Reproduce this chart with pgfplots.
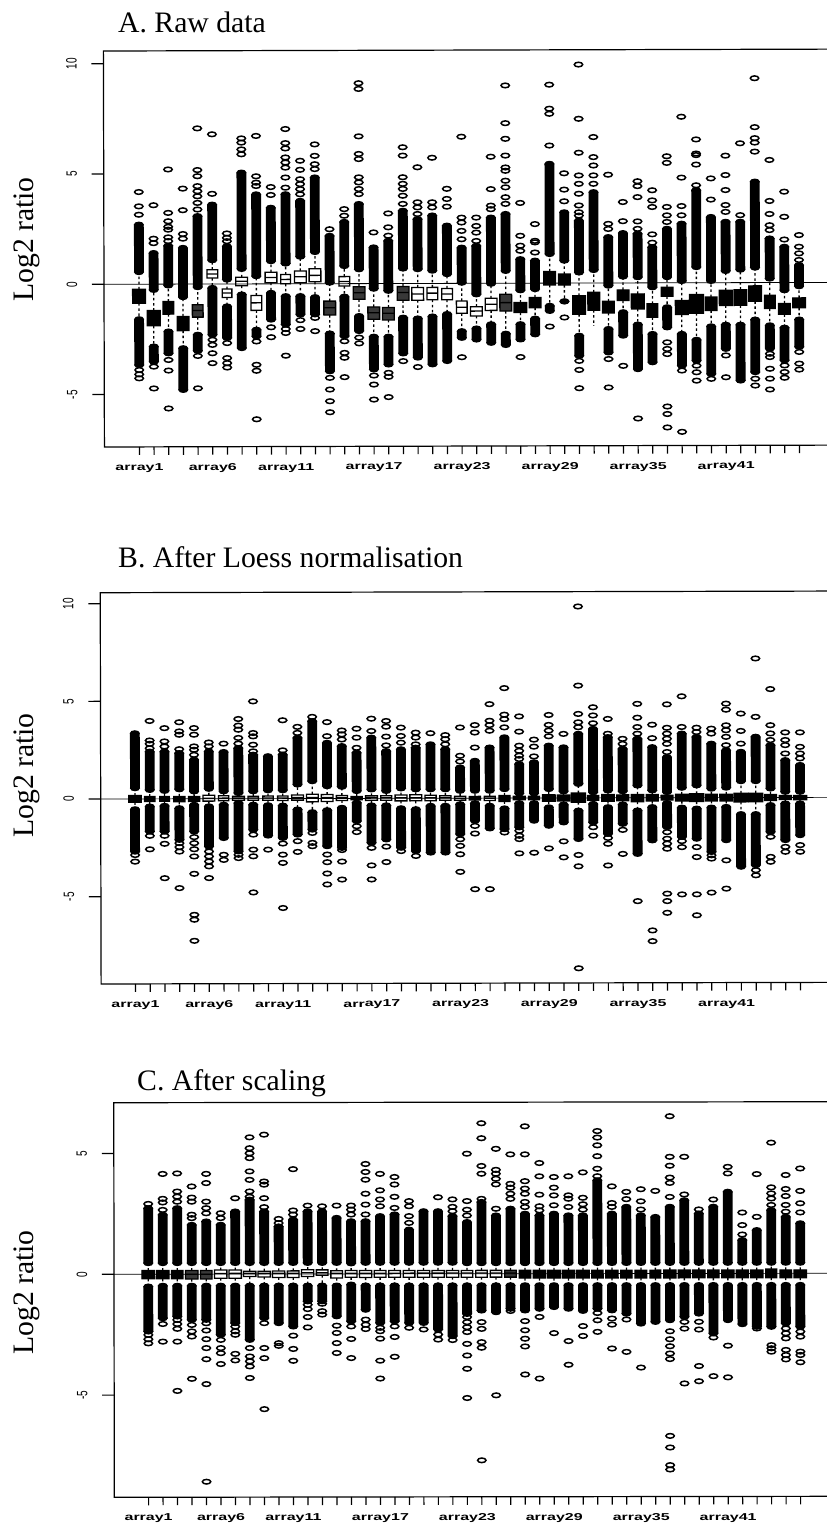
\documentclass[border=0pt]{standalone}
\usepackage{fontspec}
\setmainfont{Liberation Sans}
\newfontfamily\ser{Liberation Serif}
\usepackage{pgfplots}
\usepgfplotslibrary{statistics}
\pgfplotsset{compat=1.18}
\pgfdeclareplotmark{oval}{\pgfpathellipse{\pgfpointorigin}{\pgfqpoint{4.2pt}{0pt}}{\pgfqpoint{0pt}{2.3pt}}\pgfusepathqstroke}
\pgfdeclareplotmark{ovalf}{\pgfpathellipse{\pgfpointorigin}{\pgfqpoint{4.2pt}{0pt}}{\pgfqpoint{0pt}{2.3pt}}\pgfusepathqfillstroke}
\newcommand\AL[1]{\scalebox{1.6}[1]{\fontsize{10}{10}\selectfont\bfseries array#1}}
\newcommand\YL[1]{\scalebox{0.67}[1]{\fontsize{15}{15}\selectfont #1}}
\newcommand\BX[8]{\addplot[black,solid,line width=1.3pt,boxplot prepared={draw direction=y,draw position=#1,lower whisker=#2,lower quartile=#3,median=#4,upper quartile=#5,upper whisker=#6,box extend=#7,whisker extend=0,every box/.style={draw=black,fill=#8},every median/.style={black},every whisker/.style={dash pattern=on 2.5pt off 2.6pt}}] coordinates {};}
\newcommand\BD[3]{\addplot[black,line width=9.8pt,mark=ovalf,mark options={solid,line width=1.5pt,fill=black}] coordinates {(#1,#2)(#1,#3)};}
% x, lower band bottom, lower band top, q1, median, q3, upper band bottom, upper band top, box extend
\newcommand\AS[9]{\BD{#1}{#2}{#3}\BD{#1}{#7}{#8}\BX{#1}{#3}{#4}{#5}{#6}{#7}{#9}{black}}
\newcommand\AD[9]{\BD{#1}{#2}{#3}\BD{#1}{#7}{#8}\BX{#1}{#3}{#4}{#5}{#6}{#7}{#9}{black!78}}
\newcommand\AH[9]{\BD{#1}{#2}{#3}\BD{#1}{#7}{#8}\BX{#1}{#3}{#4}{#5}{#6}{#7}{#9}{white}}
\pgfplotsset{panel/.style={scale only axis,anchor=south west,axis line style={line width=1.2pt},
 xtick={1,6,11,17,23,29,35,41},minor xtick={1,...,46},
 xticklabels={\AL{1},\AL{6},\AL{11},\AL{17},\AL{23},\AL{29},\AL{35},\AL{41}},
 xtick pos=lower,ytick pos=left,tick align=outside,major tick length=12pt,minor tick length=8pt,
 x tick style={line width=1.2pt,black},major x tick style={draw=none},
 y tick style={line width=1.2pt,black},
 xticklabel style={anchor=north,inner sep=0pt},xticklabel shift=4.5pt,
 yticklabel style={rotate=90,anchor=south,inner sep=0pt},yticklabel shift=14.5pt,
}}
\begin{document}
\begin{tikzpicture}[x=1pt,y=1pt]
\useasboundingbox (0,0) rectangle (827,-1527);
\node[anchor=base west,inner sep=0pt] at (118,-32) {\ser\fontsize{29.7}{30}\selectfont A. Raw data};
\node[anchor=base west,inner sep=0pt] at (118,-567) {\ser\fontsize{29.7}{30}\selectfont B. After Loess normalisation};
\node[anchor=base west,inner sep=0pt] at (137,-1090) {\ser\fontsize{29.7}{30}\selectfont C. After scaling};
\node[anchor=base west,inner sep=0pt,rotate=90] at (33,-302) {\ser\fontsize{29.7}{30}\selectfont Log2 ratio};
\node[anchor=base west,inner sep=0pt,rotate=90] at (33,-838) {\ser\fontsize{29.7}{30}\selectfont Log2 ratio};
\node[anchor=base west,inner sep=0pt,rotate=90] at (33,-1355) {\ser\fontsize{29.7}{30}\selectfont Log2 ratio};

% ---------------- Panel A
\begin{scope}[rotate around={0.15:(104,-284)}]
\begin{axis}[panel,at={(104pt,-447pt)},width=736pt,height=396pt,
 xmin=-1.386,xmax=48.79,ymin=-7.38,ymax=10.58,
 ytick={-5,0,5,10},yticklabels={\YL{-5},\YL{0},\YL{5},\YL{10}}]
\AS{1}{-3.67}{-1.59}{-.86}{-.5}{-.23}{.55}{2.7}{.87}
\AS{2}{-3.52}{-2.83}{-1.89}{-1.5}{-1.2}{-.26}{1.41}{.87}
\AS{3}{-3.14}{-2.15}{-1.36}{-1.05}{-.79}{-.06}{1.74}{.73}
\AS{4}{-4.8}{-2.91}{-2.11}{-1.75}{-1.47}{-.59}{1.64}{.8}
\AD{5}{-3.03}{-2.3}{-1.5}{-1.2}{-.94}{-.14}{3.08}{.73}
\AH{6}{-2.3}{-.18}{.27}{.45}{.65}{1.08}{3.6}{.73}
\AH{7}{-2.45}{-1.02}{-.61}{-.41}{-.23}{.2}{1.71}{.66}
\AH{8}{-2.91}{-.48}{-.08}{.12}{.3}{.68}{5.05}{.8}
\AH{9}{-2.38}{-2.08}{-1.2}{-.86}{-.53}{.35}{4.06}{.73}
\AH{10}{-1.62}{-.41}{.05}{.29}{.53}{1.03}{3.45}{.8}
\AH{11}{-1.85}{-.56}{0}{.2}{.42}{.92}{4.06}{.66}
\AH{12}{-1.39}{-.56}{.05}{.32}{.58}{1.23}{3.76}{.8}
\AH{13}{-1.39}{-.61}{.09}{.38}{.68}{1.44}{4.82}{.8}
\AD{14}{-3.97}{-2.26}{-1.42}{-1.09}{-.79}{.05}{2.17}{.8}
\AH{15}{-2.38}{-.59}{-.11}{.1}{.32}{.8}{2.8}{.73}
\AD{16}{-2.15}{-1.47}{-.71}{-.41}{-.14}{.65}{3.61}{.8}
\AD{17}{-3.89}{-2.41}{-1.62}{-1.32}{-1.06}{-.23}{1.64}{.8}
\AD{18}{-3.67}{-2.41}{-1.65}{-1.35}{-1.09}{-.33}{1.94}{.8}
\AD{19}{-3.17}{-1.55}{-.76}{-.41}{-.14}{.68}{3.3}{.8}
\AH{20}{-3.36}{-1.59}{-.76}{-.48}{-.18}{.65}{2.92}{.8}
\AH{21}{-3.67}{-1.5}{-.74}{-.44}{-.18}{.58}{3.08}{.73}
\AH{22}{-3.52}{-1.39}{-.74}{-.48}{-.23}{.42}{2.62}{.73}
\AH{23}{-2.47}{-2.17}{-1.36}{-1.08}{-.8}{.03}{1.62}{.73}
\AH{24}{-2.55}{-2.05}{-1.48}{-1.26}{-1.06}{-.5}{1.7}{.8}
\AH{25}{-2.7}{-1.86}{-1.23}{-.95}{-.68}{-.02}{2.98}{.8}
\AD{26}{-2.8}{-2.29}{-1.26}{-.88}{-.5}{.56}{3.14}{.8}
\AS{27}{-2.55}{-1.86}{-1.33}{-1.1}{-.88}{-.32}{1.09}{.87}
\AS{28}{-2.32}{-1.61}{-1.11}{-.88}{-.65}{-.27}{1.02}{.8}
\AS{29}{-1.26}{-1.03}{-.08}{.2}{.53}{1.32}{5.41}{.8}
\AS{30}{-.83}{-.83}{-.09}{.15}{.41}{1.02}{3.21}{.8}
\AS{31}{-3.3}{-2.39}{-1.41}{-1}{-.58}{.48}{2.83}{.87}
\BD{32}{.59}{4.12}\BX{32}{-1.94}{-1.23}{-.8}{-.42}{.59}{.8}{black}
\AS{33}{-3.15}{-2.09}{-1.36}{-1.1}{-.83}{-.12}{2.08}{.8}
\AS{34}{-2.39}{-1.33}{-.8}{-.55}{-.32}{.29}{2.26}{.8}
\AS{35}{-3.91}{-1.89}{-1.18}{-.85}{-.5}{.26}{2.23}{.87}
\AS{36}{-3.6}{-2.32}{-1.56}{-1.26}{-.95}{-.2}{1.62}{.73}
\AS{37}{-2.02}{-1.11}{-.61}{-.4}{-.2}{.26}{2.45}{.8}
\AS{38}{-3.76}{-2.32}{-1.44}{-1.1}{-.8}{.08}{2.68}{.87}
\AS{39}{-3.53}{-2.59}{-1.38}{-.95}{-.53}{.71}{4.2}{.95}
\AS{40}{-4.14}{-1.98}{-1.26}{-.95}{-.65}{.08}{2.98}{.8}
\AS{41}{-3}{-1.91}{-1.03}{-.7}{-.35}{.53}{2.76}{.87}
\AS{42}{-4.44}{-1.91}{-1.03}{-.65}{-.32}{.59}{2.76}{.87}
\AS{43}{-4.06}{-1.68}{-.85}{-.5}{-.15}{.68}{4.58}{.87}
\AS{44}{-3}{-1.94}{-1.18}{-.88}{-.58}{.18}{2}{.73}
\AS{45}{-3.53}{-2.05}{-1.44}{-1.2}{-.95}{-.35}{1.62}{.8}
\AS{46}{-2.92}{-1.68}{-1.15}{-.92}{-.7}{-.17}{.79}{.87}
\addplot[only marks,mark=oval,mark options={solid,line width=1.5pt,black}] coordinates {
(1,3.15)(1,3.53)(1,4.18)(1,-3.89)(1,-4.09)(1,-4.27)
(2,1.86)(2,2.06)(2,3.58)(2,-3.74)(2,-4.73)
(3,1.95)(3,2.12)(3,2.47)(3,2.6)(3,2.85)(3,3.23)(3,5.2)(3,-3.44)(3,-3.92)(3,-5.64)
(4,2.06)(4,2.27)(4,3.35)(4,4.33)
(5,3.38)(5,3.68)(5,3.98)(5,4.21)(5,4.44)(5,4.89)(5,5.17)(5,7.06)(5,-3.26)(5,-4.73)
(6,4.09)(6,6.79)(6,-2.53)(6,-2.76)(6,-3.14)(6,-3.59)
(7,1.94)(7,2.09)(7,2.29)(7,-2.68)(7,-3.36)(7,-3.59)(7,-3.79)
(8,5.88)(8,6.1)(8,6.41)(8,6.6)
(9,4.44)(9,4.59)(9,4.88)(9,6.71)(9,-2.61)(9,-3.67)(9,-3.94)(9,-6.14)
(10,4.03)(10,4.39)(10,-1.97)(10,-2.42)
(11,4.36)(11,4.82)(11,5.27)(11,5.5)(11,5.73)(11,6.14)(11,6.38)(11,7.02)(11,-2.05)(11,-2.23)(11,-3.26)
(12,4.06)(12,4.29)(12,4.52)(12,4.74)(12,5.17)(12,5.58)(12,-1.65)(12,-2.05)
(13,5.2)(13,5.42)(13,5.8)(13,6.32)(13,-1.55)(13,-2.15)
(14,2.47)(14,-4.27)(14,-4.8)(14,-5.33)(14,-5.83)
(15,3.08)(15,3.38)(15,-2.61)(15,-3.14)(15,-3.36)(15,-4.24)
(16,4.06)(16,4.29)(16,4.59)(16,4.82)(16,5.65)(16,5.88)(16,6.68)(16,8.83)(16,9.09)(16,-2.45)(16,-2.71)
(17,2.32)(17,-4.17)(17,-4.58)(17,-5.26)
(18,2.17)(18,2.55)(18,3.18)(18,-4.05)(18,-4.23)(18,-5.15)
(19,3.61)(19,3.98)(19,4.29)(19,4.52)(19,4.82)(19,5.8)(19,6.18)(19,-3.52)
(20,3.15)(20,3.45)(20,3.68)(20,5.27)(20,-3.79)
(21,3.45)(21,3.68)(21,5.7)
(22,3.48)(22,3.83)(22,4.29)
(23,2)(23,2.38)(23,2.76)(23,2.98)(23,6.65)(23,-3.35)
(24,1.92)(24,2.3)(24,2.6)(24,2.98)
(25,3.36)(25,3.52)(25,4.27)(25,5.74)
(26,3.6)(26,3.9)(26,4.35)(26,4.65)(26,5.1)(26,5.25)(26,5.79)(26,6.55)(26,7.26)(26,8.97)
(27,1.47)(27,1.7)(27,2.15)(27,3.64)(27,-3.35)
(28,1.39)(28,1.85)(28,1.92)(28,2.68)
(29,6.24)(29,7.91)(29,7.68)(29,9)(29,-1.97)
(30,3.71)(30,4.24)(30,4.98)(30,-1.56)
(31,3.06)(31,3.21)(31,3.52)(31,4.05)(31,4.5)(31,4.88)(31,5.91)(31,7.45)(31,9.91)(31,-3.53)(31,-3.94)(31,-4.77)
(32,4.5)(32,4.88)(32,5.33)(32,5.71)(32,6.62)
(33,2.45)(33,2.68)(33,4.91)(33,-3.45)(33,-4.74)
(34,2.8)(34,3.67)(34,-3.76)
(35,2.45)(35,2.79)(35,3.89)(35,4.39)(35,4.61)(35,-6.15)
(36,1.82)(36,2.2)(36,3.44)(36,3.74)(36,4.2)
(37,2.76)(37,3.06)(37,3.44)(37,5.44)(37,5.74)(37,-2.7)(37,-3)(37,-3.23)(37,-5.61)(37,-5.95)(37,-6.56)
(38,3.06)(38,3.48)(38,4.77)(38,7.53)(38,-3.98)(38,-6.76)
(39,4.42)(39,5.36)(39,5.79)(39,5.86)(39,6.5)(39,-3.76)(39,-4.06)(39,-4.44)
(40,3.77)(40,4.73)(40,-4.36)
(41,3.21)(41,3.52)(41,4.2)(41,4.88)(41,5.76)(41,-3.3)(41,-4.29)
(42,3.06)(42,6.32)
(43,5.94)(43,6.35)(43,6.55)(43,7.05)(43,9.27)(43,-4.36)(43,-4.67)
(44,2.38)(44,2.6)(44,3.11)(44,3.7)(44,5.56)(44,-3.23)(44,-3.38)(44,-3.91)(44,-4.36)(44,-4.85)
(45,1.95)(45,2.98)(45,4.12)(45,-3.76)(45,-4.06)(45,-4.32)
(46,1.02)(46,1.32)(46,1.62)(46,2.15)(46,-3.15)(46,-3.68)(46,-3.95)
};
\addplot[black,line width=0.8pt] coordinates {(-1.386,0)(48.79,0)};
\end{axis}
\end{scope}

% ---------------- Panel B
\begin{scope}[rotate around={0.13:(100.7,-799)}]
\begin{axis}[panel,at={(100.7pt,-984pt)},width=739.3pt,height=391.3pt,
 xmin=-1.32,xmax=48.7,ymin=-9.47,ymax=10.56,
 ytick={-5,0,5,10},yticklabels={\YL{-5},\YL{0},\YL{5},\YL{10}}]
\AS{1}{-2.7}{-.53}{-.17}{0}{.17}{.55}{3.36}{.85}
\AS{2}{-1.67}{-.39}{-.13}{0}{.12}{.46}{2.42}{.7}
\AS{3}{-1.67}{-.36}{-.12}{0}{.12}{.41}{2.42}{.65}
\AS{4}{-2.1}{-.48}{-.15}{0}{.12}{.49}{2.34}{.75}
\AS{5}{-1.67}{-.31}{-.13}{0}{.12}{.38}{2}{.75}
\AH{6}{-2.44}{-.39}{-.12}{.03}{.18}{.51}{2.42}{.8}
\AH{7}{-2.01}{-.31}{-.1}{.03}{.15}{.38}{2.39}{.7}
\AH{8}{-2.7}{-.22}{-.08}{.03}{.12}{.29}{2.59}{.8}
\AH{9}{-1.59}{-.31}{-.08}{.03}{.12}{.38}{2.25}{.7}
\AH{10}{-1.89}{-.34}{-.08}{.03}{.13}{.43}{2.17}{.7}
\AH{11}{-2.01}{-.36}{-.1}{.03}{.13}{.43}{2.25}{.7}
\AH{12}{-1.84}{-.56}{-.08}{.05}{.18}{.72}{3.11}{.8}
\AH{13}{-1.59}{-.7}{-.17}{.05}{.22}{.89}{3.96}{.8}
\AH{14}{-2.44}{-.6}{-.15}{.05}{.2}{.63}{2.85}{.8}
\AH{15}{-2.53}{-.48}{-.1}{.05}{.15}{.6}{2.68}{.75}
\AS{16}{-1.16}{-.22}{-.07}{.03}{.1}{.38}{2.34}{.75}
\AH{17}{-2.27}{-.36}{-.1}{.03}{.13}{.46}{3.11}{.8}
\AH{18}{-2.1}{-.36}{-.1}{.03}{.13}{.38}{2.42}{.75}
\AH{19}{-2.53}{-.51}{-.13}{.03}{.17}{.51}{2.51}{.8}
\AH{20}{-2.7}{-.56}{-.13}{.03}{.18}{.46}{2.59}{.8}
\AH{21}{-2.78}{-.39}{-.13}{.03}{.15}{.46}{2.76}{.75}
\AH{22}{-2.78}{-.39}{-.1}{.03}{.13}{.46}{2.51}{.75}
\AH{23}{-1.84}{-.31}{-.1}{0}{.1}{.38}{1.57}{.75}
\AS{24}{-1.16}{-.26}{-.09}{0}{.09}{.38}{1.91}{.75}
\AH{25}{-1.55}{-.39}{-.12}{0}{.1}{.38}{2.59}{.75}
\AS{26}{-1.59}{-.53}{-.17}{0}{.13}{.46}{3.11}{.75}
\AS{27}{-1.5}{-.26}{-.09}{0}{.09}{.24}{1.74}{.8}
\AS{28}{-1.16}{-.26}{-.09}{0}{.09}{.24}{1.83}{.75}
\AS{29}{-1.42}{-.48}{-.17}{0}{.17}{.46}{2.68}{.85}
\AS{30}{-1.25}{-.34}{-.15}{0}{.15}{.34}{2.59}{.85}
\AS{31}{-2.1}{-.65}{-.22}{0}{.25}{.72}{3.28}{.95}
\AS{32}{-1.25}{-.31}{-.12}{0}{.12}{.29}{3.53}{.75}
\AS{33}{-1.84}{-.48}{-.17}{0}{.17}{.38}{3.11}{.85}
\AS{34}{-1.33}{-.34}{-.15}{0}{.15}{.34}{2.51}{.8}
\AS{35}{-2.87}{-.65}{-.2}{0}{.17}{.63}{3.02}{.85}
\AS{36}{-2.18}{-.48}{-.17}{0}{.17}{.38}{2.59}{.8}
\AS{37}{-1.5}{-.27}{-.12}{0}{.12}{.29}{2.08}{.8}
\AS{38}{-2.01}{-.51}{-.17}{0}{.17}{.51}{3.28}{.85}
\AS{39}{-2.1}{-.56}{-.2}{0}{.2}{.63}{3.11}{.95}
\AS{40}{-2.78}{-.51}{-.17}{0}{.17}{.46}{2.76}{.8}
\AS{41}{-2.18}{-.48}{-.17}{0}{.17}{.51}{2.42}{.85}
\AS{42}{-3.54}{-.85}{-.22}{0}{.22}{.84}{2.34}{.95}
\AS{43}{-3.46}{-.85}{-.22}{0}{.22}{.84}{3.11}{.95}
\AS{44}{-1.76}{-.39}{-.15}{0}{.15}{.46}{2.68}{.8}
\AS{45}{-2.18}{-.31}{-.1}{0}{.1}{.29}{1.91}{.8}
\AS{46}{-1.93}{-.31}{-.12}{0}{.1}{.29}{1.66}{.9}
\addplot[only marks,mark=oval,mark options={solid,line width=1.5pt,black}] coordinates {
(1,-2.87)(1,-3.21)
(2,2.59)(2,2.82)(2,2.99)(2,3.99)(2,-1.89)(2,-2.58)
(3,2.68)(3,2.94)(3,3.62)(3,-1.89)(3,-2.3)(3,-4.06)
(4,2.54)(4,3.28)(4,3.45)(4,3.92)(4,-2.27)(4,-2.47)(4,-2.7)(4,-4.57)
(5,2.25)(5,2.51)(5,2.68)(5,3.28)(5,3.62)(5,-1.96)(5,-2.27)(5,-2.58)(5,-2.95)(5,-3.84)(5,-5.94)(5,-6.19)(5,-7.27)
(6,2.68)(6,2.88)(6,-2.7)(6,-2.95)(6,-3.21)(6,-3.46)(6,-4.06)
(7,2.82)(7,-2.87)(7,-3.13)
(8,2.82)(8,3.11)(8,3.53)(8,3.74)(8,4.08)(8,-2.87)(8,-3.04)
(9,2.42)(9,2.76)(9,3.19)(9,3.36)(9,4.98)(9,-1.84)(9,-2.61)(9,-2.95)(9,-4.8)
(10,-2.61)
(11,2.47)(11,4.01)(11,-2.3)(11,-2.87)(11,-3.29)(11,-5.6)
(12,3.36)(12,3.67)(12,-2.18)(12,-2.73)
(13,4.18)(13,-1.76)(13,-2.27)(13,-2.44)
(14,3.19)(14,3.91)(14,-2.87)(14,-3.26)(14,-3.84)(14,-4.4)
(15,3.02)(15,3.28)(15,3.48)(15,-2.64)(15,-3.23)(15,-4.15)
(16,2.59)(16,3.11)(16,3.57)(16,-1.42)(16,-1.72)
(17,3.45)(17,4.08)(17,-2.53)(17,-3.43)(17,-4.15)
(18,2.71)(18,3.16)(18,3.67)(18,3.96)(18,-2.47)(18,-3.26)
(19,2.85)(19,3.19)(19,3.62)(19,-2.7)
(20,2.76)(20,3.11)(20,3.36)(20,-2.95)
(21,3.33)
(22,2.76)(22,3.02)(22,3.23)
(23,1.88)(23,2.17)(23,3.62)(23,-2.1)(23,-2.44)(23,-2.87)(23,-3.77)
(24,2.59)(24,3.36)(24,3.74)(24,-1.42)(24,-1.81)(24,-4.66)
(25,3.45)(25,3.74)(25,3.96)(25,4.81)(25,-4.66)
(26,3.62)(26,4.04)(26,4.27)(26,5.63)(26,-1.76)
(27,2)(27,2.17)(27,2.42)(27,2.68)(27,3.4)(27,4.18)(27,-1.67)(27,-1.93)(27,-2.1)(27,-2.83)
(28,2.13)(28,2.63)(28,2.99)(28,-2.8)
(29,3.16)(29,3.45)(29,3.74)(29,4.25)(29,-2.58)
(30,3.28)(30,-2.22)(30,-3.04)
(31,3.62)(31,3.87)(31,4.3)(31,5.75)(31,9.8)(31,-2.92)(31,-3.5)(31,-8.72)
(32,3.82)(32,4.22)(32,4.64)(32,-1.5)(32,-1.93)
(33,3.28)(33,4.04)(33,-2.05)(33,-2.35)(33,-3.46)
(34,2.76)(34,3.02)(34,-1.64)(34,-2.87)
(35,3.28)(35,3.62)(35,4.1)(35,4.81)(35,-5.29)
(36,3.05)(36,3.74)(36,-6.79)(36,-7.34)
(37,2.34)(37,2.76)(37,3.02)(37,3.28)(37,3.58)(37,4.78)(37,-1.76)(37,-2.1)(37,-2.35)(37,-2.61)(37,-4.91)(37,-5.29)(37,-5.89)
(38,3.62)(38,5.19)(38,-2.22)(38,-2.53)(38,-4.95)
(39,3.36)(39,3.58)(39,-2.53)(39,-3.04)(39,-4.95)(39,-6.02)
(40,3.28)(40,3.53)(40,-2.95)(40,-3.12)(40,-4.86)
(41,2.68)(41,3.11)(41,3.45)(41,3.7)(41,4.5)(41,4.81)(41,-3.21)(41,-4.66)
(42,2.76)(42,3.41)(42,4.3)
(43,4.13)(43,7.12)(43,-3.72)(43,-3.98)
(44,2.94)(44,3.28)(44,3.7)(44,5.55)(44,-2.01)(44,-3.04)(44,-3.29)
(45,2.25)(45,2.68)(45,2.94)(45,3.33)(45,-2.53)(45,-2.78)
(46,2)(46,2.25)(46,2.59)(46,3.33)(46,-2.44)(46,-2.78)
};
\addplot[black,line width=0.7pt] coordinates {(-1.32,0)(48.7,0)};
\end{axis}
\end{scope}

% ---------------- Panel C
\begin{scope}[rotate around={0.08:(114,-1274.3)}]
\begin{axis}[panel,at={(114pt,-1497.3pt)},width=726pt,height=394.6pt,
 xmin=-1.367,xmax=48.74,ymin=-9.23,ymax=7.1,
 ytick={-5,0,5},yticklabels={\YL{-5},\YL{0},\YL{5}}]
\AS{1}{-2.37}{-.51}{-.19}{0}{.15}{.46}{2.73}{.87}
\AS{2}{-1.82}{-.48}{-.19}{0}{.15}{.46}{2.46}{.87}
\AS{3}{-1.75}{-.48}{-.19}{0}{.15}{.46}{2.73}{.78}
\AD{4}{-1.89}{-.48}{-.2}{0}{.15}{.46}{2.04}{.87}
\AD{5}{-1.89}{-.48}{-.2}{0}{.15}{.46}{2.18}{.8}
\AH{6}{-2.51}{-.48}{-.17}{.03}{.17}{.46}{2.04}{.85}
\AH{7}{-2.03}{-.48}{-.17}{.03}{.17}{.46}{2.59}{.85}
\AH{8}{-2.72}{-.48}{-.1}{.03}{.12}{.46}{3.08}{.85}
\AH{9}{-1.82}{-.48}{-.12}{.03}{.12}{.46}{2.59}{.85}
\AH{10}{-2.03}{-.48}{-.14}{.03}{.13}{.46}{1.97}{.85}
\AH{11}{-2.17}{-.48}{-.14}{.03}{.13}{.46}{2.25}{.8}
\AH{12}{-1.13}{-.48}{-.1}{.05}{.18}{.46}{2.59}{.85}
\AH{13}{-1.13}{-.48}{-.05}{.05}{.17}{.46}{2.59}{.8}
\AH{14}{-1.75}{-.48}{-.17}{.03}{.13}{.46}{2.32}{.8}
\AH{15}{-1.96}{-.44}{-.14}{.03}{.14}{.44}{2.18}{.8}
\AH{16}{-1.48}{-.48}{-.15}{.03}{.14}{.46}{2.18}{.85}
\AH{17}{-2.03}{-.48}{-.14}{.03}{.14}{.46}{2.39}{.8}
\AH{18}{-1.96}{-.48}{-.14}{.03}{.14}{.46}{2.46}{.8}
\AH{19}{-2.03}{-.48}{-.14}{.03}{.14}{.46}{1.83}{.8}
\AH{20}{-2.03}{-.48}{-.14}{.03}{.14}{.46}{2.59}{.85}
\AH{21}{-2.3}{-.48}{-.14}{.03}{.14}{.46}{2.59}{.85}
\AH{22}{-2.58}{-.48}{-.14}{.03}{.14}{.46}{2.39}{.85}
\AH{23}{-1.66}{-.48}{-.14}{.03}{.14}{.44}{2.14}{.8}
\AH{24}{-1.52}{-.48}{-.14}{.03}{.14}{.44}{2.97}{.8}
\AH{25}{-1.59}{-.48}{-.14}{.03}{.14}{.44}{2.41}{.8}
\AD{26}{-1.45}{-.48}{-.14}{.03}{.14}{.44}{2.69}{.8}
\AS{27}{-1.52}{-.48}{-.18}{0}{.14}{.44}{2.48}{.8}
\AS{28}{-1.45}{-.48}{-.18}{0}{.14}{.44}{2.41}{.85}
\AS{29}{-1.38}{-.48}{-.18}{0}{.14}{.44}{2.48}{.85}
\AS{30}{-1.45}{-.48}{-.18}{0}{.14}{.44}{2.41}{.85}
\AS{31}{-1.54}{-.48}{-.18}{0}{.14}{.44}{2.41}{.85}
\AS{32}{-1.45}{-.48}{-.18}{0}{.14}{.44}{3.86}{.78}
\AS{33}{-1.52}{-.48}{-.18}{0}{.14}{.44}{2.48}{.85}
\AS{34}{-1.66}{-.48}{-.18}{0}{.14}{.44}{2.76}{.78}
\AS{35}{-2.07}{-.48}{-.18}{0}{.14}{.44}{2.41}{.8}
\AS{36}{-2}{-.48}{-.18}{0}{.14}{.44}{2.34}{.75}
\AS{37}{-1.93}{-.48}{-.18}{0}{.14}{.44}{2.76}{.85}
\AS{38}{-1.79}{-.48}{-.18}{0}{.14}{.44}{3.03}{.85}
\AS{39}{-1.66}{-.48}{-.18}{0}{.14}{.44}{2.48}{.85}
\AS{40}{-2.48}{-.48}{-.18}{0}{.14}{.44}{2.76}{.78}
\AS{41}{-1.93}{-.48}{-.18}{0}{.14}{.44}{3.38}{.85}
\AS{42}{-2.1}{-.48}{-.18}{0}{.14}{.44}{1.38}{.85}
\AS{43}{-2.21}{-.48}{-.18}{0}{.14}{.44}{1.79}{.85}
\AS{44}{-2.21}{-.48}{-.18}{0}{.18}{.44}{2.62}{.75}
\AS{45}{-2.07}{-.48}{-.18}{0}{.14}{.44}{2.34}{.8}
\AS{46}{-2.21}{-.48}{-.18}{0}{.14}{.44}{2.07}{.85}
\addplot[only marks,mark=oval,mark options={solid,line width=1.5pt,black}] coordinates {
(1,2.91)(1,-2.51)(1,-2.69)(1,-2.86)
(2,2.66)(2,2.97)(2,3.12)(2,4.15)(2,-2.06)(2,-2.79)
(3,3)(3,3.21)(3,3.42)(3,4.17)(3,-1.89)(3,-2.06)(3,-2.26)(3,-2.79)(3,-4.83)
(4,2.32)(4,2.46)(4,3)(4,3.17)(4,3.63)(4,-2.1)(4,-2.37)(4,-2.58)(4,-4.33)
(5,2.52)(5,2.73)(5,3)(5,3.77)(5,4.15)(5,-2.03)(5,-2.33)(5,-2.69)(5,-3.06)(5,-3.52)(5,-4.55)(5,-8.59)
(6,2.32)(6,2.52)(6,-2.72)(6,-3.06)(6,-3.27)(6,-3.72)
(7,3.14)(7,-2.17)(7,-2.37)(7,-2.51)(7,-3.3)(7,-3.57)
(8,3.2)(8,3.42)(8,3.9)(8,4.25)(8,4.8)(8,5)(8,5.21)(8,5.66)(8,-3.06)(8,-3.41)(8,-3.61)(8,-3.82)(8,-4.3)
(9,2.77)(9,3.14)(9,3.7)(9,3.83)(9,5.77)(9,-2.03)(9,-3.06)(9,-3.48)(9,-5.59)
(10,2.11)(10,2.28)(10,-2.86)(10,-2.97)
(11,2.46)(11,2.63)(11,4.34)(11,-2.55)(11,-3.1)(11,-3.59)
(12,2.83)(12,-1.27)(12,-1.45)(12,-1.78)(12,-2.21)
(13,2.8)(13,-1.23)(13,-1.54)(13,-1.68)
(14,2.83)(14,-2.14)(14,-2.44)(14,-2.86)(14,-3.27)
(15,2.46)(15,2.66)(15,2.83)(15,-2.17)(15,-2.69)(15,-3.48)
(16,2.46)(16,2.87)(16,3.32)(16,3.9)(16,4.22)(16,4.55)(16,-1.89)(16,-2.1)(16,-2.28)
(17,2.8)(17,3.08)(17,3.46)(17,4.14)(17,-2.23)(17,-2.37)(17,-2.68)(17,-3.59)(17,-4.33)
(18,2.73)(18,3.19)(18,3.7)(18,4.01)(18,-2.17)(18,-2.61)(18,-3.43)
(19,2.11)(19,2.39)(19,2.8)(19,3.01)(19,-2.23)
(20,-2.3)
(21,3.17)(21,-2.51)(21,-2.72)
(22,2.59)(22,2.77)(22,3.08)(22,-2.74)
(23,2.41)(23,2.65)(23,3.01)(23,4.97)(23,-1.79)(23,-2)(23,-2.21)(23,-2.41)(23,-2.9)(23,-3.38)(23,-3.93)(23,-5.14)
(24,3.1)(24,4.14)(24,4.46)(24,5.61)(24,6.23)(24,-2)(24,-2.28)(24,-2.83)(24,-3.06)(24,-7.72)
(25,2.69)(25,3.7)(25,3.93)(25,4.14)(25,4.3)(25,5.17)(25,-5.03)
(26,3.1)(26,3.31)(26,3.56)(26,3.72)(26,4.94)(26,-1.54)
(27,2.76)(27,2.97)(27,3.31)(27,3.52)(27,3.83)(27,4.94)(27,6.1)(27,-1.96)(27,-2.34)(27,-2.69)(27,-3.01)(27,-4.17)
(28,2.62)(28,2.79)(28,3.27)(28,4.03)(28,4.58)(28,-1.79)(28,-4.34)
(29,2.83)(29,3.24)(29,3.56)(29,4)(29,-2.46)
(30,2.76)(30,3.1)(30,3.24)(30,4.03)(30,-2.79)(30,-3.77)
(31,2.65)(31,2.87)(31,3.14)(31,4.19)(31,-2.17)(31,-2.58)
(32,4.03)(32,4.34)(32,4.86)(32,5.31)(32,5.63)(32,5.9)(32,-1.63)(32,-1.93)(32,-2.41)
(33,2.76)(33,2.92)(33,3.61)(33,-1.86)(33,-2.11)(33,-3.1)
(34,3.08)(34,3.38)(34,-1.9)(34,-3.24)
(35,2.65)(35,2.99)(35,3.49)(35,-3.89)
(36,3.42)
(37,3.17)(37,3.75)(37,3.97)(37,4.46)(37,4.83)(37,6.51)(37,-2.39)(37,-2.72)(37,-3.01)(37,-3.31)(37,-3.54)(37,-6.72)(37,-7.2)(37,-7.93)(37,-8.11)
(38,3.27)(38,4.83)(38,-2)(38,-2.28)(38,-4.55)
(39,2.65)(39,-2)(39,-2.32)(39,-3.83)(39,-4.46)
(40,3.06)(40,-2.65)(40,-4.25)
(41,4.14)(41,4.41)(41,-2.99)(41,-4.3)
(42,1.61)(42,2)(42,2.52)
(43,2.34)(43,4.11)(43,-2.28)
(44,2.83)(44,3.1)(44,3.31)(44,3.56)(44,5.41)(44,-2.97)(44,-3.1)(44,-3.24)
(45,2.55)(45,2.83)(45,3.2)(45,3.49)(45,4.07)(45,-2.28)(45,-2.48)(45,-2.69)(45,-3.17)(45,-3.38)(45,-3.56)
(46,2.52)(46,2.9)(46,3.41)(46,4.34)(46,-2.41)(46,-2.62)(46,-3.24)(46,-3.38)(46,-3.68)
};
\addplot[black,line width=0.7pt] coordinates {(-1.367,0)(48.74,0)};
\end{axis}
\end{scope}
\end{tikzpicture}
\end{document}
